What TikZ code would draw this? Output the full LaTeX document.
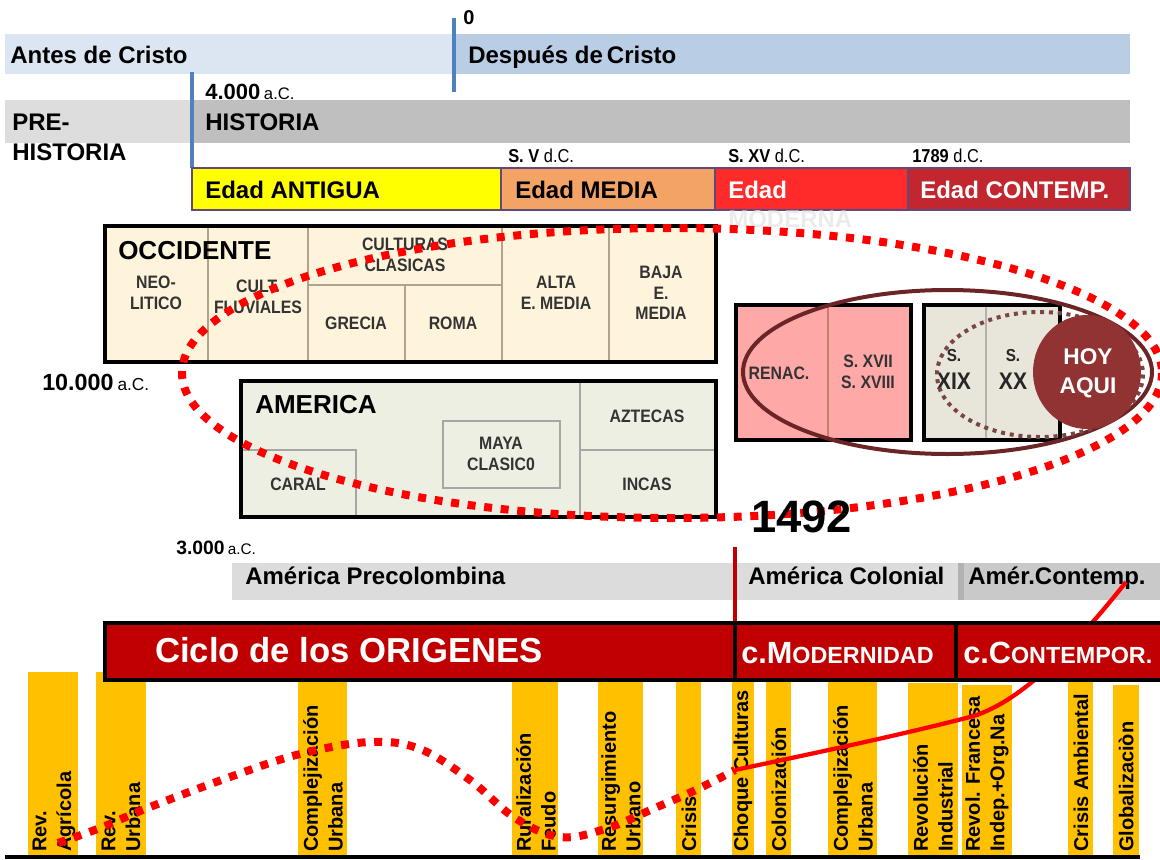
\documentclass[tikz,border=0pt]{standalone}
\usepackage{fontspec}
\setmainfont{Liberation Sans}
\newfontfamily\narrow[FakeStretch=0.88]{Liberation Sans}
\definecolor{acblue}{HTML}{DCE6F2}
\definecolor{dcblue}{HTML}{B9CDE5}
\definecolor{tickblue}{HTML}{4F81BD}
\definecolor{pregray}{HTML}{DDDDDD}
\definecolor{histgray}{HTML}{BFBFBF}
\definecolor{eyellow}{HTML}{FFFF00}
\definecolor{emedia}{HTML}{F4A366}
\definecolor{emoderna}{HTML}{FF2B2B}
\definecolor{econtemp}{HTML}{C2262E}
\definecolor{eborder}{HTML}{604A7B}
\definecolor{occfill}{HTML}{FEF4DC}
\definecolor{amfill}{HTML}{EEEFE3}
\definecolor{innerline}{HTML}{B4A38C}
\definecolor{pinkfill}{HTML}{FFA8A8}
\definecolor{beigefill}{HTML}{E8E6DA}
\definecolor{darkell}{HTML}{6B2526}
\definecolor{dotbrown}{HTML}{7A4545}
\definecolor{hoyfill}{HTML}{913332}
\definecolor{cycred}{HTML}{C00000}
\definecolor{barorange}{HTML}{FFC000}
\definecolor{bandgray}{HTML}{DCDCDC}
\definecolor{bandgray2}{HTML}{C9C9C9}
\definecolor{lblgray}{HTML}{333333}
\definecolor{dotred}{HTML}{FF0000}
\begin{document}
\begin{tikzpicture}[x=0.75pt,y=-0.75pt,
  lbl/.style={inner sep=0, anchor=base west, font=\bfseries\fontsize{18}{21}\selectfont},
  boxlbl/.style={inner sep=0, align=center, text=lblgray, font=\narrow\bfseries\fontsize{13.5}{15.5}\selectfont},
  datelbl/.style={inner sep=0, anchor=base west},
  edadbox/.style={draw=eborder, line width=1.1pt},
  bigbox/.style={draw=black, line width=2.4pt},
  thinline/.style={draw=innerline, line width=0.8pt},
  barlbl/.style={rotate=90, anchor=west, inner sep=0, align=left, font=\bfseries\fontsize{15}{18.5}\selectfont},
  reddots/.style={draw=dotred, line width=6pt, dash pattern=on 6pt off 6.5pt},
  cycbox/.style={fill=cycred, draw=black, line width=2.3pt},
  cyclbl/.style={inner sep=0, anchor=base west, text=white, font=\bfseries}
]
\useasboundingbox (0,0) rectangle (1160,860);

% ---- top band: antes / despues de Cristo
\fill[acblue] (5,34) rectangle (453,74);
\fill[dcblue] (455,34) rectangle (1130,74);
\coordinate (t0a) at (454,18); \coordinate (t0b) at (454,92);
\draw[tickblue, line width=2.4pt] (t0a) -- (t0b);
\node[lbl, font=\bfseries\fontsize{15}{17}\selectfont] (zero) at (463,24) {0};
\node[lbl] (adc) at (10,63) {Antes de Cristo};
\node[lbl] (ddc) at (468,63) {Después de\,Cristo};

% ---- second band: prehistoria / historia
\fill[pregray] (5,100) rectangle (191,143);
\fill[histgray] (193,100) rectangle (1130,143);
\coordinate (t4a) at (192,72); \coordinate (t4b) at (192,168);
\draw[tickblue, line width=2.4pt] (t4a) -- (t4b);
\node[lbl] (pre1) at (12,130) {PRE-};
\node[lbl] (pre2) at (12,160) {HISTORIA};
\node[lbl] (hist) at (205,130) {HISTORIA};
\node[datelbl] (d4000) at (205,99) {\bfseries\fontsize{16.5}{18}\selectfont 4.000\,{\mdseries\fontsize{12.5}{14}\selectfont a.C.}};

% ---- dates above edades
\node[datelbl, font=\narrow\fontsize{14}{16}\selectfont] (dsv) at (508,162) {\bfseries S. V \mdseries d.C.};
\node[datelbl, font=\narrow\fontsize{14}{16}\selectfont] (dsxv) at (728,162) {\bfseries S. XV \mdseries d.C.};
\node[datelbl, font=\narrow\fontsize{14}{16}\selectfont] (d1789) at (912,162) {\bfseries 1789 \mdseries d.C.};

% ---- edades
\filldraw[edadbox, fill=eyellow] (192,168) rectangle (501,210);
\filldraw[edadbox, fill=emedia] (501,168) rectangle (715,210);
\filldraw[edadbox, fill=emoderna] (715,168) rectangle (908,210);
\filldraw[edadbox, fill=econtemp] (908,168) rectangle (1130,210);
\node[lbl] (eant) at (205,198) {Edad ANTIGUA};
\node[lbl] (emed) at (515,198) {Edad MEDIA};
\node[lbl, text=white] (emod) at (728,198) {Edad};
\node[lbl, text=black!8] (emod2) at (728,227) {MODERNA};
\node[lbl, text=white] (econ) at (920,198) {Edad CONTEMP.};

% ---- OCCIDENTE
\fill[occfill] (105,226) rectangle (716,362);
\draw[thinline] (208,226) -- (208,362);
\draw[thinline] (308,226) -- (308,362);
\draw[thinline] (502,226) -- (502,362);
\draw[thinline] (609,226) -- (609,362);
\draw[thinline] (308,285) -- (502,285);
\draw[thinline] (405,285) -- (405,362);
\draw[bigbox] (105,226) rectangle (716,362);
\node[lbl, font=\bfseries\fontsize{19.5}{22}\selectfont] (occ) at (118,259) {OCCIDENTE};
\node[boxlbl] (neo) at (156,293) {NEO-\\LITICO};
\node[boxlbl] (fluv) at (258,297) {CULT.\\FLUVIALES};
\node[boxlbl] (clas) at (405,255) {CULTURAS\\CLASICAS};
\node[boxlbl] (grecia) at (356,323) {GRECIA};
\node[boxlbl] (roma) at (453,323) {ROMA};
\node[boxlbl] (alta) at (556,293) {ALTA\\E. MEDIA};
\node[boxlbl] (baja) at (661,293) {BAJA\\E.\\MEDIA};

% ---- AMERICA
\fill[amfill] (241,381) rectangle (716,517);
\draw[thinline, draw=gray!70] (580,381) -- (580,517);
\draw[thinline, draw=gray!70] (580,450) -- (716,450);
\draw[thinline, draw=gray!70] (241,450) rectangle (356,517);
\draw[thinline, draw=gray!70] (443,421) rectangle (560,488);
\draw[bigbox] (241,381) rectangle (716,517);
\node[lbl, font=\bfseries\fontsize{19.5}{22}\selectfont] (amer) at (255,413) {AMERICA};
\node[boxlbl] (azt) at (647,416) {AZTECAS};
\node[boxlbl] (inc) at (647,484) {INCAS};
\node[boxlbl] (maya) at (501,454) {MAYA\\CLASIC0};
\node[boxlbl] (caral) at (298,484) {CARAL};

% ---- right boxes
\fill[pinkfill] (736,305) rectangle (911,440);
\draw[thinline, draw=innerline!80!red] (828,305) -- (828,440);
\draw[bigbox] (736,305) rectangle (911,440);
\fill[beigefill] (924,305) rectangle (1060,440);
\draw[thinline, draw=gray!60] (986,305) -- (986,440);
\draw[bigbox] (924,305) rectangle (1060,440);
\node[boxlbl, text=black!80] (ren) at (779,373) {RENAC.};
\node[boxlbl, text=black!80] (s17) at (868,372) {S. XVII\\S. XVIII};
\node[boxlbl, text=black!85, font=\narrow\bfseries\fontsize{13}{21}\selectfont] (s19) at (954,369) {S.\\\fontsize{18}{21}\selectfont XIX};
\node[boxlbl, text=black!85, font=\narrow\bfseries\fontsize{13}{21}\selectfont] (s20) at (1013,369) {S.\\\fontsize{18}{21}\selectfont XX};

\draw[darkell, line width=3pt] (947.5,372) ellipse [x radius=204.5, y radius=82];
\draw[dotbrown, line width=3pt, dash pattern=on 3pt off 3.6pt] (1040,374.5) ellipse [x radius=103, y radius=62.5];
\fill[hoyfill] (1087,372) ellipse [x radius=54, y radius=57];
\node[inner sep=0, align=center, text=white, font=\bfseries\fontsize{17}{22}\selectfont] (hoy) at (1088,373) {HOY\\AQUI};

% ---- big dotted ellipse
\draw[reddots] (672,373) ellipse [x radius=490, y radius=145];

\node[datelbl] (d10000) at (42,390) {\bfseries\fontsize{17.5}{20}\selectfont 10.000\,{\mdseries\fontsize{13}{15}\selectfont a.C.}};
\node[lbl, font=\bfseries\fontsize{34}{36}\selectfont] (y1492) at (751,532) {1492};
\node[datelbl] (d3000) at (176,554) {\bfseries\fontsize{14.5}{17}\selectfont 3.000\,{\mdseries\fontsize{11.5}{13}\selectfont a.C.}};

% ---- America band
\fill[bandgray] (232,563) rectangle (958,600);
\fill[bandgray2] (958,563) rectangle (1160,600);
\fill[black!30] (958,563) rectangle (964,600);
\node[lbl, font=\bfseries\fontsize{18}{20}\selectfont] (apre) at (245,584) {América Precolombina};
\node[lbl, font=\bfseries\fontsize{18}{20}\selectfont] (acol) at (748,584) {América Colonial};
\node[lbl, font=\bfseries\fontsize{18}{20}\selectfont] (acon) at (968,584) {Amér.Contemp.};
\coordinate (r1) at (735,547); \coordinate (r2) at (735,625);
\draw[cycred, line width=2.4pt] (r1) -- (r2);

% ---- bars
\fill[barorange] (28,672) rectangle (78,855);
\fill[barorange] (96,672) rectangle (146,855);
\fill[barorange] (298,680) rectangle (347,855);
\fill[barorange] (512,680) rectangle (558,855);
\fill[barorange] (598,680) rectangle (643,855);
\fill[barorange] (676,680) rectangle (701,855);
\fill[barorange] (732,680) rectangle (754,855);
\fill[barorange] (766,680) rectangle (791,855);
\fill[barorange] (828,680) rectangle (877,855);
\fill[barorange] (908,683) rectangle (958,855);
\fill[barorange] (962,685) rectangle (1012,855);
\fill[barorange] (1068,680) rectangle (1093,855);
\fill[barorange] (1113,685) rectangle (1139,855);
\node[barlbl] (b1) at (54,852) {Rev.\\Agrícola};
\node[barlbl] (b2) at (121,852) {Rev.\\Urbana};
\node[barlbl] (b3) at (323,852) {Complejización\\Urbana};
\node[barlbl] (b4) at (536,852) {Ruralización\\Feudo};
\node[barlbl] (b5) at (621,852) {Resurgimiento\\Urbano};
\node[barlbl] (b6) at (689,852) {Crisis};
\node[barlbl] (b7) at (743,852) {Choque Culturas};
\node[barlbl] (b8) at (779,852) {Colonización};
\node[barlbl] (b9) at (853,852) {Complejización\\Urbana};
\node[barlbl] (b10) at (933,852) {Revolución\\Industrial};
\node[barlbl] (b11) at (987,852) {Revol. Francesa\\Indep.+Org.Na};
\node[barlbl] (b12) at (1081,852) {Crisis Ambiental};
\node[barlbl] (b13) at (1126,852) {Globalizaciòn};
\coordinate (base1) at (5,857); \coordinate (base2) at (1140,857);
\draw[black, line width=3pt] (base1) -- (base2);

% ---- curves
\draw[reddots, line cap=butt] plot[smooth, tension=0.6] coordinates {(58,843) (100,828) (150,807) (230,777) (300,754) (370,742) (420,749) (470,780) (515,818) (560,837) (605,829) (655,808) (700,788) (735,770)};
\coordinate (c0) at (735,770);
\coordinate (c1) at (966,718);
\coordinate (c2) at (1126,582);
\draw[dotred, line width=3.2pt] (c0) .. controls (820,752) and (900,735) .. (c1) .. controls (1020,706) and (1080,640) .. (c2);

% ---- cycles
\draw[cycbox] (105,623) rectangle (735,680);
\draw[cycbox] (735,623) rectangle (956,680);
\draw[cycbox] (956,623) rectangle (1175,680);
\node[cyclbl, font=\bfseries\fontsize{26}{28}\selectfont] (corig) at (155,662) {Ciclo de los ORIGENES};
\node[cyclbl] (cmod) at (741,663) {\fontsize{23}{25}\selectfont c.M\fontsize{17.5}{19}\selectfont ODERNIDAD};
\node[cyclbl] (ccon) at (963,663) {\fontsize{23}{25}\selectfont c.C\fontsize{17.5}{19}\selectfont ONTEMPOR.};
\end{tikzpicture}
\end{document}
